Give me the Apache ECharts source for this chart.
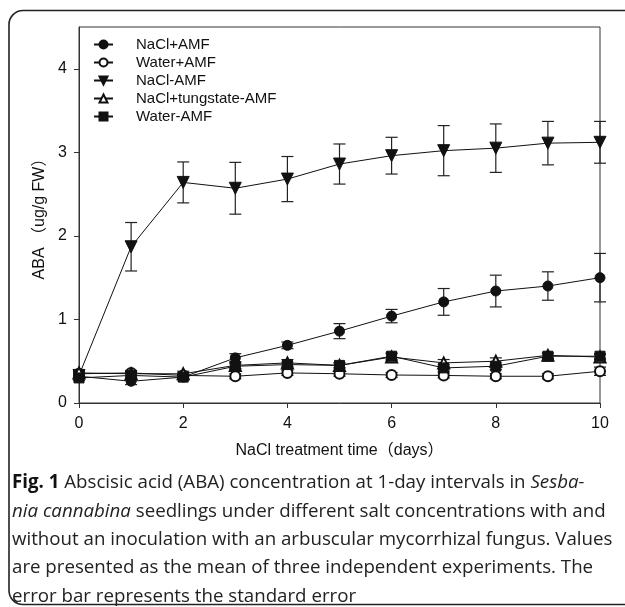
<!DOCTYPE html>
<html>
<head>
<meta charset="utf-8">
<script src="https://cdn.jsdelivr.net/npm/echarts@6/dist/echarts.min.js"></script>
<style>
  html, body { margin: 0; padding: 0; background: #fff; }
  #chart { width: 625px; height: 607px; }
</style>
</head>
<body>
<div id="chart"></div>
<script>
// data (ABA, ug/g FW)
var days = [0, 1, 2, 3, 4, 5, 6, 7, 8, 9, 10];
var xTicks = [0, 2, 4, 6, 8, 10];
var yTicks = [0, 1, 2, 3, 4];

var naclAmf = [0.32, 0.26, 0.31, 0.54, 0.69, 0.86, 1.04, 1.21, 1.34, 1.40, 1.50];
var naclAmfErr = [0.03, 0.04, 0.03, 0.05, 0.04, 0.09, 0.08, 0.16, 0.19, 0.17, 0.29];

var waterAmf = [0.35, 0.36, 0.33, 0.32, 0.36, 0.35, 0.335, 0.33, 0.32, 0.32, 0.38];
var waterAmfErr = [0.03, 0.03, 0.03, 0.03, 0.03, 0.03, 0.03, 0.03, 0.03, 0.03, 0.05];

var naclNoAmf = [0.33, 1.87, 2.64, 2.57, 2.68, 2.86, 2.96, 3.02, 3.05, 3.11, 3.12];
var naclNoAmfErr = [0.03, 0.29, 0.245, 0.31, 0.27, 0.24, 0.22, 0.30, 0.29, 0.26, 0.25];

var tungstate = [0.36, 0.35, 0.35, 0.45, 0.48, 0.45, 0.55, 0.48, 0.50, 0.57, 0.55];
var tungstateErr = [0.03, 0.03, 0.03, 0.04, 0.04, 0.03, 0.04, 0.04, 0.04, 0.03, 0.03];

var waterNoAmf = [0.30, 0.33, 0.31, 0.44, 0.46, 0.45, 0.56, 0.42, 0.44, 0.56, 0.56];
var waterNoAmfErr = [0.03, 0.03, 0.03, 0.03, 0.03, 0.03, 0.04, 0.04, 0.04, 0.03, 0.03];

var names = ["NaCl+AMF", "Water+AMF", "NaCl-AMF", "NaCl+tungstate-AMF", "Water-AMF"];

var axisFont = "Liberation Sans, Arial, Noto Sans CJK SC, sans-serif";
var capFont = "Open Sans, Noto Sans, sans-serif";
var capSize = 18.7;
var capLine = 28.3;

function pairs(vals) {
  return days.map(function (d, i) { return [d, vals[i]]; });
}

function errData(vals, errs) {
  return days.map(function (d, i) { return [d, vals[i] - errs[i], vals[i] + errs[i]]; });
}

function errRender(params, api) {
  var lo = api.coord([api.value(0), api.value(1)]);
  var hi = api.coord([api.value(0), api.value(2)]);
  var w = 6;
  var st = { stroke: "#222", lineWidth: 1.2 };
  return {
    type: "group",
    children: [
      { type: "line", shape: { x1: lo[0], y1: lo[1], x2: hi[0], y2: hi[1] }, style: st },
      { type: "line", shape: { x1: hi[0] - w, y1: hi[1], x2: hi[0] + w, y2: hi[1] }, style: st },
      { type: "line", shape: { x1: lo[0] - w, y1: lo[1], x2: lo[0] + w, y2: lo[1] }, style: st }
    ]
  };
}

function errSeries(vals, errs) {
  return {
    type: "custom",
    renderItem: errRender,
    data: errData(vals, errs),
    encode: { x: 0, y: [1, 2] },
    z: 1,
    silent: true
  };
}

function lineSeries(name, vals, symbol, size, rotate) {
  return {
    name: name,
    type: "line",
    data: pairs(vals),
    symbol: symbol,
    symbolSize: size,
    symbolRotate: rotate || 0,
    showAllSymbol: true,
    lineStyle: { color: "#111", width: 1 },
    itemStyle: { color: "#111", borderColor: "#111", borderWidth: 1 },
    z: 3
  };
}

var chart = echarts.init(document.getElementById("chart"));

var option = {
  animation: false,
  backgroundColor: "#fff",
  grid: {
    left: 79,
    top: 27,
    width: 521,
    height: 376,
    show: true,
    borderColor: "#333",
    borderWidth: 1,
    outerBoundsMode: "none"
  },
  legend: {
    data: names,
    orient: "vertical",
    left: 93,
    top: 37,
    padding: 0,
    itemWidth: 19,
    itemHeight: 10,
    itemGap: 3,
    textStyle: { fontFamily: axisFont, fontSize: 15, color: "#111", padding: [0, 0, 0, 18] }
  },
  xAxis: {
    type: "value",
    min: 0,
    max: 10,
    interval: 2,
    name: "NaCl treatment time（days）",
    nameLocation: "middle",
    nameGap: 40,
    nameTextStyle: { fontFamily: axisFont, fontSize: 16, color: "#111" },
    axisLine: { onZero: false, lineStyle: { color: "#333", width: 1 } },
    axisTick: { length: 5, lineStyle: { color: "#333" }, customValues: xTicks },
    axisLabel: { margin: 13, fontFamily: axisFont, fontSize: 16, color: "#111", customValues: xTicks },
    splitLine: { show: false }
  },
  yAxis: {
    type: "value",
    min: 0,
    max: 4.5,
    name: "ABA （ug/g FW）",
    nameLocation: "middle",
    nameGap: 24,
    nameRotate: 90,
    nameTextStyle: { fontFamily: axisFont, fontSize: 16, color: "#111" },
    axisLine: { onZero: false, lineStyle: { color: "#333", width: 1 } },
    axisTick: { length: 5, lineStyle: { color: "#333" }, customValues: yTicks },
    axisLabel: { margin: 12, fontFamily: axisFont, fontSize: 16, color: "#111", customValues: yTicks },
    splitLine: { show: false }
  },
  graphic: [
    {
      type: "rect",
      shape: { x: 9, y: 10.5, width: 640, height: 594, r: 14 },
      style: { fill: null, stroke: "#222", lineWidth: 1.6 },
      silent: true
    },
    {
      type: "text",
      left: 12,
      top: 469,
      style: {
        text: "{b|Fig. 1} Abscisic acid (ABA) concentration at 1-day intervals in {i|Sesba-}\n" +
              "{i|nia cannabina} seedlings under different salt concentrations with and\n" +
              "without an inoculation with an arbuscular mycorrhizal fungus. Values\n" +
              "are presented as the mean of three independent experiments. The\n" +
              "error bar represents the standard error",
        fontFamily: capFont,
        fontSize: capSize,
        lineHeight: capLine,
        fill: "#222",
        rich: {
          b: { fontFamily: capFont, fontSize: capSize, fontWeight: "bold", lineHeight: capLine, fill: "#111" },
          i: { fontFamily: capFont, fontSize: capSize, fontStyle: "italic", lineHeight: capLine, fill: "#222" }
        }
      },
      silent: true
    }
  ],
  series: [
    errSeries(naclAmf, naclAmfErr),
    errSeries(waterAmf, waterAmfErr),
    errSeries(naclNoAmf, naclNoAmfErr),
    errSeries(tungstate, tungstateErr),
    errSeries(waterNoAmf, waterNoAmfErr),
    lineSeries(names[0], naclAmf, "circle", 10),
    lineSeries(names[1], waterAmf, "emptyCircle", 10),
    lineSeries(names[2], naclNoAmf, "triangle", 12, 180),
    lineSeries(names[3], tungstate, "emptyTriangle", 11),
    lineSeries(names[4], waterNoAmf, "rect", 10)
  ]
};

chart.setOption(option);
</script>
</body>
</html>
